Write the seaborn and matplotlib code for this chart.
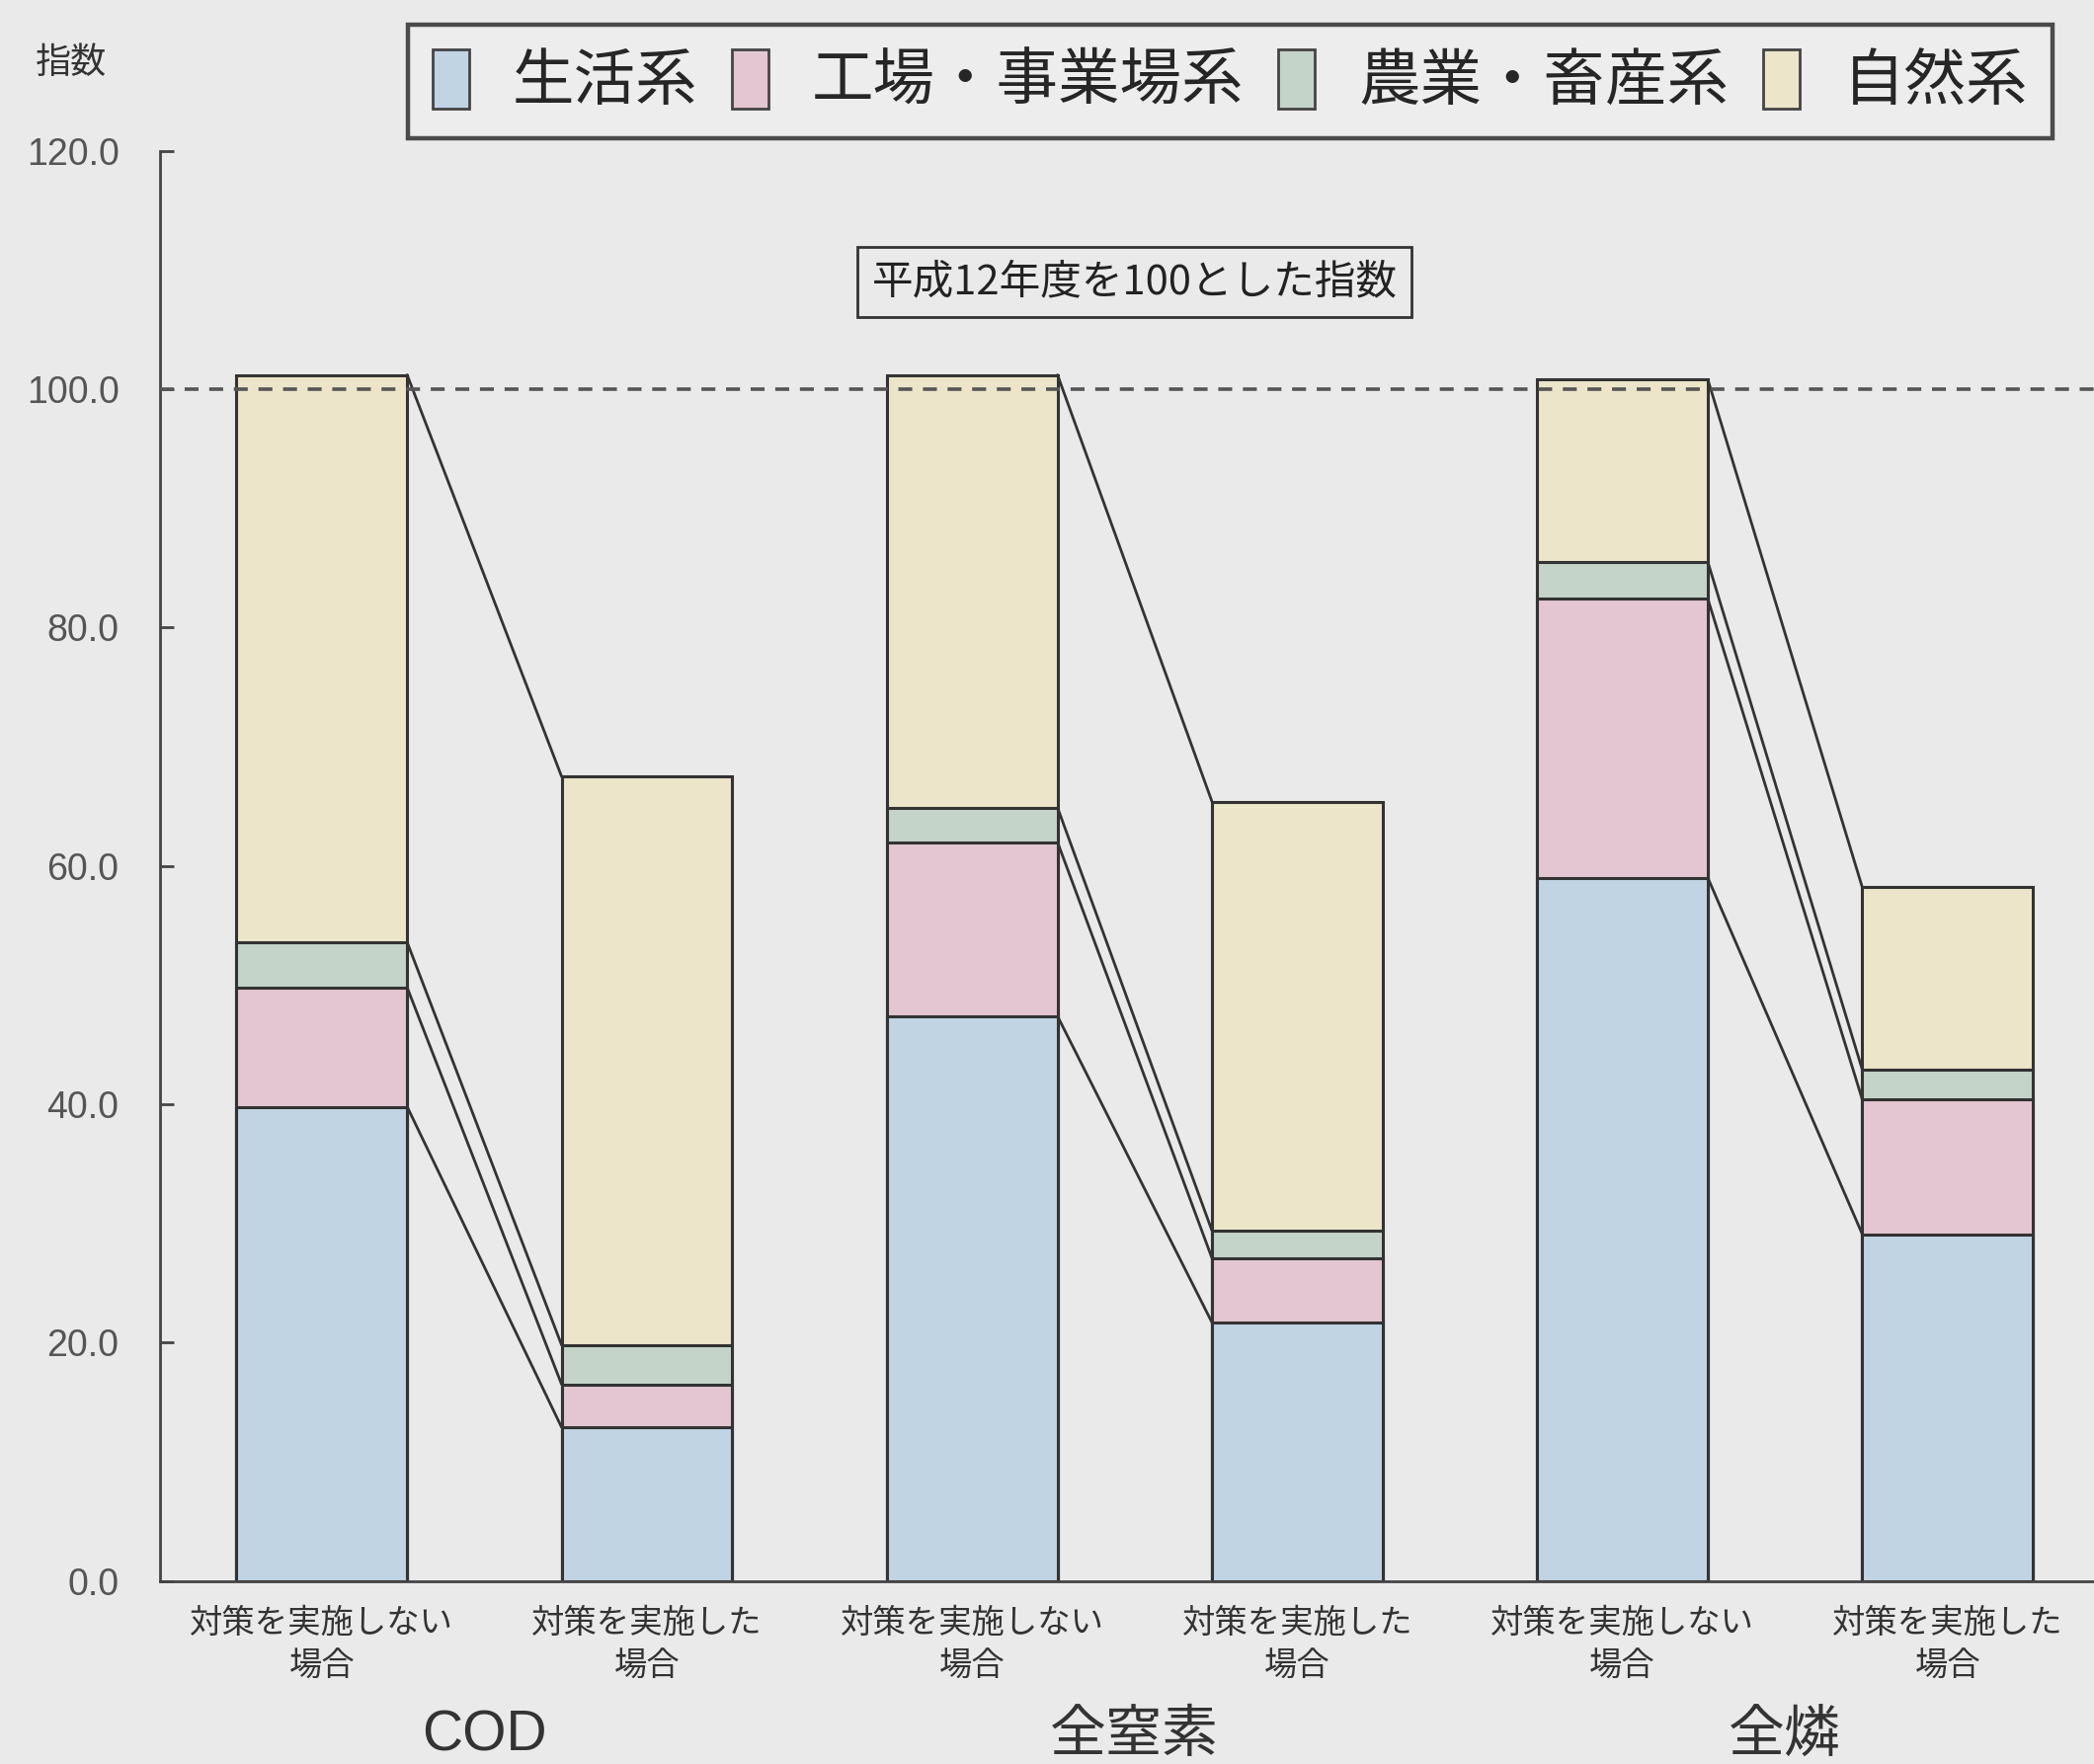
import numpy as np
import pandas as pd
import matplotlib
matplotlib.use("Agg")
import matplotlib.pyplot as plt
from matplotlib.patches import Patch
import seaborn as sns

# Pollutant groups and the two scenarios per group
groups = ["COD", "全窒素", "全燐"]
scenarios = ["対策を実施しない\n場合", "対策を実施した\n場合"]
sources = ["生活系", "工場・事業場系", "農業・畜産系", "自然系"]

# Index values (FY2000 = 100) per source, bar order:
# COD no-measures, COD measures, TN no-measures, TN measures, TP no-measures, TP measures
domestic = [39.8, 12.9, 47.4, 21.7, 59.0, 29.1]
industrial = [10.0, 3.6, 14.6, 5.4, 23.4, 11.3]
agriculture = [3.8, 3.3, 2.9, 2.3, 3.1, 2.5]
natural = [47.6, 47.7, 36.3, 36.0, 15.3, 15.3]

y_ticks = [0, 20, 40, 60, 80, 100, 120]
reference_level = 100
note = "平成12年度を100とした指数"
y_title = "指数"

colors = ["#c0d4e4", "#e4c6d2", "#c5d4c9", "#ece5c9"]
bg = "#eaeaea"
edge = "#333333"

sns.set_theme(style="white")
plt.rcParams["font.family"] = ["Noto Sans CJK JP", "DejaVu Sans"]
latin = ["Liberation Sans", "Noto Sans CJK JP"]

fig = plt.figure(figsize=(10.6, 8.93), dpi=200, facecolor=bg)
ax = fig.add_axes([0.0765, 0.1037, 0.9235, 0.8108], facecolor=bg)

keys = [f"{g}|{s}" for g in groups for s in scenarios]
layers = np.array([domestic, industrial, agriculture, natural])
cum = layers.cumsum(axis=0)
df = pd.DataFrame({"key": keys})
for j, src in enumerate(sources):
    df[src] = cum[j]

width = 0.525
# Stacked bars: draw cumulative totals from the top layer down
for j in range(len(sources) - 1, -1, -1):
    sns.barplot(data=df, x="key", y=sources[j], order=keys, color=colors[j],
                width=width, edgecolor=edge, linewidth=1.1, saturation=1,
                errorbar=None, ax=ax, zorder=2)

# Connector lines between the layer boundaries of each pair of bars
for g in range(len(groups)):
    x0 = 2 * g + width / 2
    x1 = 2 * g + 1 - width / 2
    for j in range(len(sources)):
        ax.plot([x0, x1], [cum[j, 2 * g], cum[j, 2 * g + 1]],
                color=edge, lw=1.0, zorder=1)

# Reference line at 100
ax.axhline(reference_level, color="#555555", lw=1.3, ls=(0, (3.9, 3.0)), zorder=3)

ax.set_xlim(-0.497, 5.45)
ax.set_ylim(0, 120)
ax.set_yticks(y_ticks)
ax.set_yticklabels([f"{v:.1f}" for v in y_ticks], family=latin)
ax.set_xticks(range(len(keys)))
ax.set_xticklabels([s for g in groups for s in scenarios])
ax.set_xlabel("")
ax.set_ylabel("")

ax.tick_params(axis="y", left=True, direction="in", length=5, width=1,
               color="#444444", labelsize=13.5, labelcolor="#555555", pad=15)
ax.tick_params(axis="x", bottom=False, labelsize=12, labelcolor="#333333", pad=3)
for lab in ax.get_xticklabels():
    lab.set_linespacing(1.32)

for side in ["top", "right"]:
    ax.spines[side].set_visible(False)
for side in ["left", "bottom"]:
    ax.spines[side].set_color("#444444")
    ax.spines[side].set_linewidth(1.0)

# Group names under the scenario labels
for g, name in enumerate(groups):
    ax.text(2 * g + 0.5, -13, name, ha="center", va="center", fontsize=20.5,
            color="#333333", clip_on=False, family=latin)

# Note box
ax.text(2.5, 109, note, ha="center", va="center", fontsize=15, color="#222222",
        bbox=dict(boxstyle="square,pad=0.35", fc=bg, ec=edge, lw=1.0), zorder=4)

# Y-axis title
fig.text(0.034, 0.964, y_title, ha="center", va="center", fontsize=13, color="#333333")

# Legend
handles = [Patch(facecolor=c, edgecolor="#444444", lw=1.0) for c in colors]
leg = fig.legend(handles, sources, loc="center", bbox_to_anchor=(0.5875, 0.954),
                 ncol=4, fontsize=22.5, frameon=True, fancybox=False,
                 edgecolor="#222222", facecolor="#efefef",
                 handlelength=0.6, handleheight=1.1, handletextpad=0.7,
                 columnspacing=0.55, borderpad=0.4)
leg.get_frame().set_linewidth(1.6)

fig.savefig("out.png", dpi=200, facecolor=bg)
